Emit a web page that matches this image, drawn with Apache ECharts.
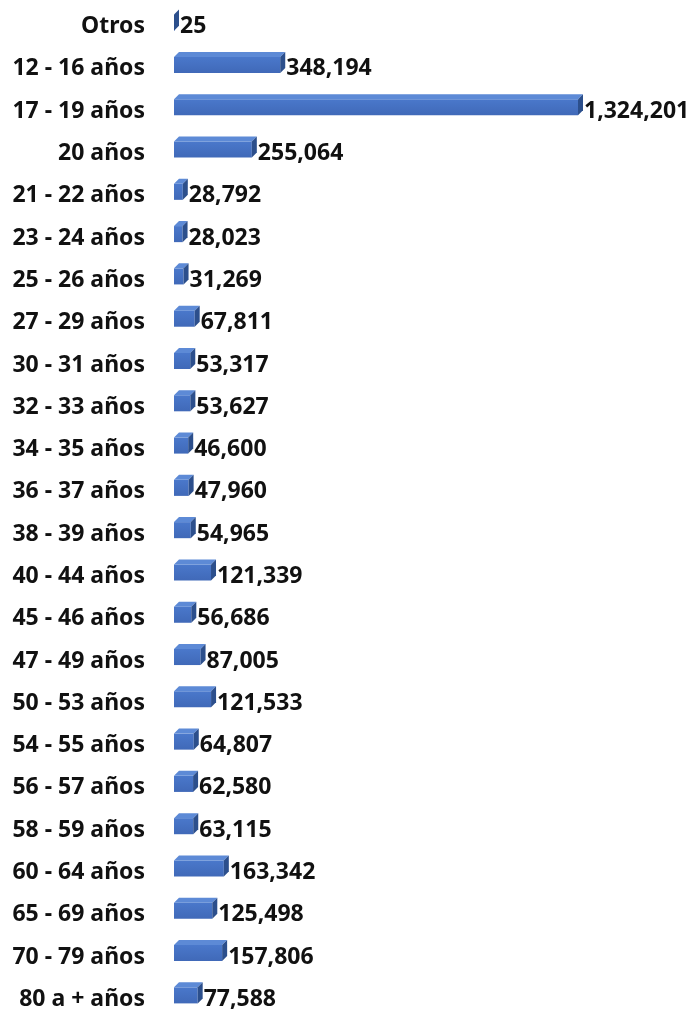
<!DOCTYPE html>
<html>
<head>
<meta charset="utf-8">
<script src="https://cdn.jsdelivr.net/npm/echarts@6/dist/echarts.min.js"></script>
<style>
  html, body { margin: 0; padding: 0; background: #fff; }
  #main { width: 691px; height: 1011px; }
</style>
</head>
<body>
<div id="main"></div>
<script>
// grupos de edad, de arriba hacia abajo
var categories = [
  "Otros", "12 - 16 años", "17 - 19 años", "20 años", "21 - 22 años",
  "23 - 24 años", "25 - 26 años", "27 - 29 años", "30 - 31 años", "32 - 33 años",
  "34 - 35 años", "36 - 37 años", "38 - 39 años", "40 - 44 años", "45 - 46 años",
  "47 - 49 años", "50 - 53 años", "54 - 55 años", "56 - 57 años", "58 - 59 años",
  "60 - 64 años", "65 - 69 años", "70 - 79 años", "80 a + años"
];
var values = [
  25, 348194, 1324201, 255064, 28792,
  28023, 31269, 67811, 53317, 53627,
  46600, 47960, 54965, 121339, 56686,
  87005, 121533, 64807, 62580, 63115,
  163342, 125498, 157806, 77588
];

var FONT = "Noto Sans";
var depth = 5;

var chart = echarts.init(document.getElementById("main"));

// barra 3D: cara frontal, superior y lateral
function renderBar(params, api) {
  var idx = api.value(1);
  var val = api.value(0);
  var p0 = api.coord([0, idx]);
  var p1 = api.coord([val, idx]);
  var h = api.size([0, 1])[1] * 0.38;
  var x0 = p0[0], x1 = p1[0];
  var cy = p0[1] - 4;
  var yT = cy - h / 2, yB = cy + h / 2;
  return {
    type: "group",
    children: [
      {
        type: "rect",
        shape: { x: x0, y: yT, width: Math.max(x1 - x0, 0.5), height: h },
        style: {
          fill: new echarts.graphic.LinearGradient(0, 0, 0, 1, [
            { offset: 0, color: "#4a78cb" },
            { offset: 1, color: "#4069b8" }
          ])
        }
      },
      {
        type: "polygon",
        shape: { points: [[x0, yT], [x1, yT], [x1 + depth, yT - depth], [x0 + depth, yT - depth]] },
        style: { fill: "#5d8ad6" }
      },
      {
        type: "polygon",
        shape: { points: [[x1, yT], [x1 + depth, yT - depth], [x1 + depth, yB - depth], [x1, yB]] },
        style: { fill: "#2c4f8c" }
      },
      {
        type: "text",
        style: {
          x: x1 + depth + 1,
          y: p0[1],
          text: val.toLocaleString("en-US"),
          fill: "#111",
          font: "bold 23px '" + FONT + "'",
          verticalAlign: "middle",
          align: "left"
        }
      }
    ]
  };
}

chart.setOption({
  animation: false,
  grid: { left: 174, right: 113, top: 5.5, height: 1015, outerBoundsMode: "none" },
  xAxis: {
    type: "value",
    min: 0,
    max: 1324201,
    show: false
  },
  yAxis: {
    type: "category",
    data: categories,
    inverse: true,
    axisLine: { show: false },
    axisTick: { show: false },
    axisLabel: {
      margin: 29,
      color: "#111",
      fontFamily: FONT,
      fontWeight: "bold",
      fontSize: 23
    }
  },
  series: [
    {
      type: "custom",
      renderItem: renderBar,
      encode: { x: 0, y: 1 },
      clip: false,
      data: values.map(function (v, i) { return [v, i]; })
    }
  ]
});
</script>
</body>
</html>
